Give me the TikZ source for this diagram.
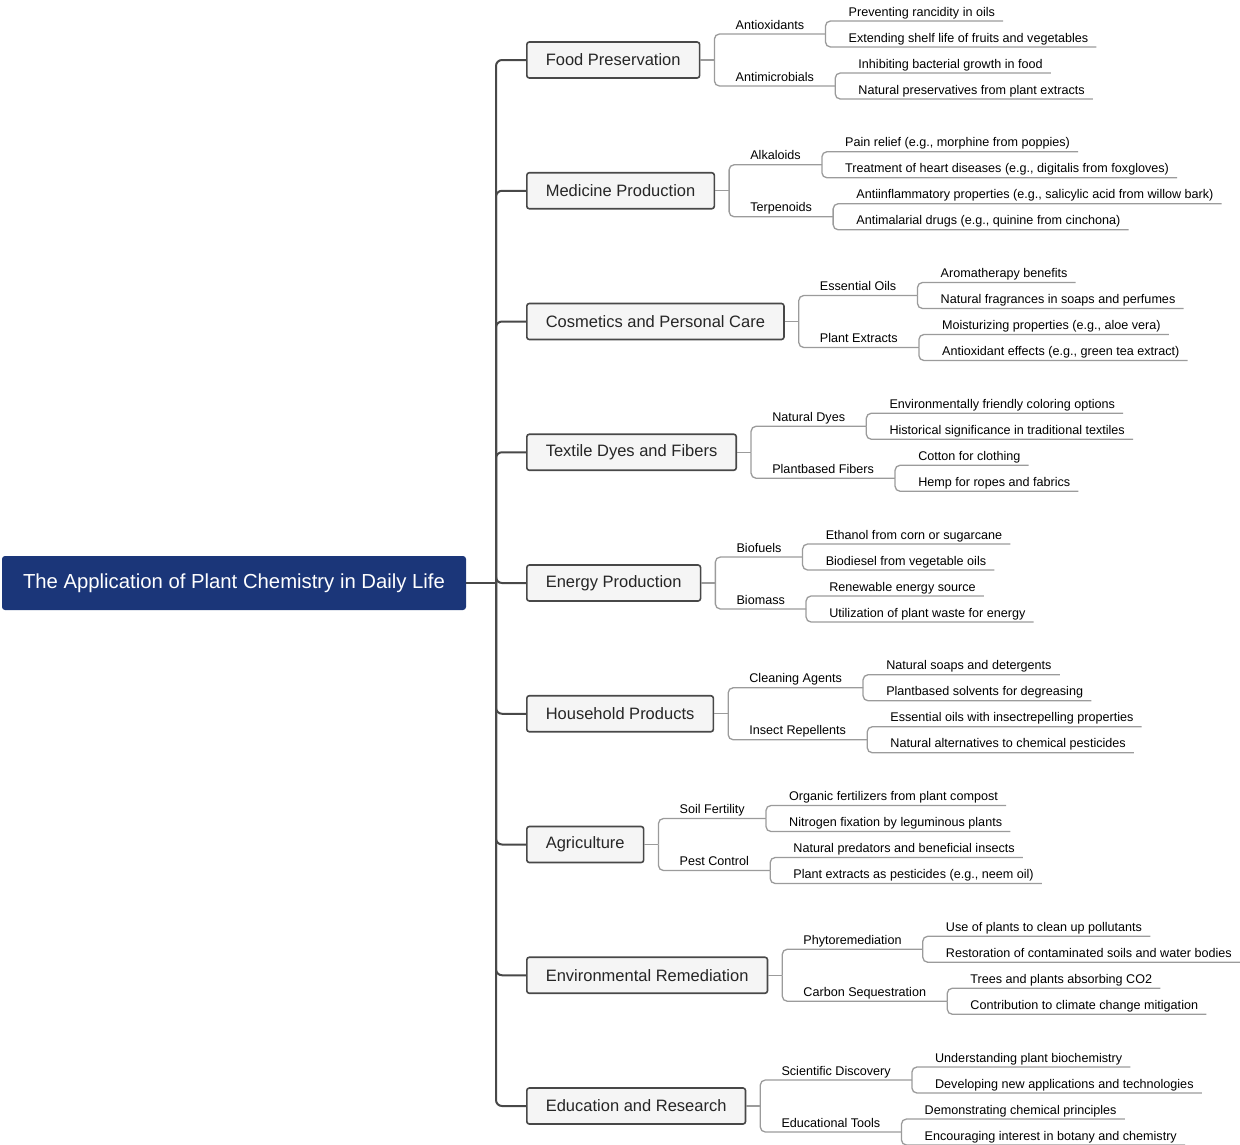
\documentclass[tikz,border=0pt]{standalone}
\usepackage{fontspec}
\setmainfont{Liberation Sans}
\usetikzlibrary{calc}
\definecolor{rootblue}{RGB}{27,54,121}
\definecolor{trunkgray}{RGB}{72,72,72}
\definecolor{subgray}{RGB}{155,155,155}
\definecolor{boxfill}{RGB}{245,245,245}
\tikzset{
  rootbox/.style={fill=rootblue, rounded corners=3pt, text=white, minimum height=54pt, minimum width=464pt, inner sep=0pt, font=\fontsize{20.3pt}{24pt}\selectfont},
  catbox/.style={draw=trunkgray, line width=1.6pt, fill=boxfill, rounded corners=2.5pt, minimum height=36pt, inner xsep=19pt, inner ysep=0pt, text=black!85, font=\fontsize{16.5pt}{19pt}\selectfont},
  sublbl/.style={inner sep=0pt, text depth=4.8pt, font=\fontsize{12.6pt}{15pt}\selectfont},
  leaf/.style={inner sep=0pt, text depth=4.8pt, font=\fontsize{12.6pt}{15pt}\selectfont},
  trunk/.style={draw=trunkgray, line width=2pt, rounded corners=6pt},
  subline/.style={draw=subgray, line width=1.3pt, rounded corners=5pt},
}
\newcommand{\catbranch}[9]{%
  \node[catbox, anchor=west] (#1) at (526,#2) {#3};
  \draw[trunk] (tj) |- (#1.west);
  \coordinate (#1j) at ([xshift=14pt]#1.east);
  \draw[subline] (#1.east) -- (#1j);
  \node[sublbl, anchor=south west] (#1a) at ($(#1j)+(21,-26)$) {#4};
  \coordinate (#1ae) at ([xshift=21pt]#1a.south east);
  \draw[subline] (#1j) |- (#1ae);
  \node[leaf, anchor=south west] (#1a1) at ($(#1ae)+(23,-13)$) {#5};
  \draw[subline] (#1ae) |- ([xshift=8pt]#1a1.south east);
  \node[leaf, anchor=south west] (#1a2) at ($(#1ae)+(23,13)$) {#6};
  \draw[subline] (#1ae) |- ([xshift=8pt]#1a2.south east);
  \node[sublbl, anchor=south west] (#1b) at ($(#1j)+(21,26)$) {#7};
  \coordinate (#1be) at ([xshift=21pt]#1b.south east);
  \draw[subline] (#1j) |- (#1be);
  \node[leaf, anchor=south west] (#1b1) at ($(#1be)+(23,-13)$) {#8};
  \draw[subline] (#1be) |- ([xshift=8pt]#1b1.south east);
  \node[leaf, anchor=south west] (#1b2) at ($(#1be)+(23,13)$) {#9};
  \draw[subline] (#1be) |- ([xshift=8pt]#1b2.south east);
}
\begin{document}
\begin{tikzpicture}[x=1pt, y=-1pt]
\useasboundingbox (0,0) rectangle (1240,1144);
\node[rootbox] (root) at (234,583) {The Application of Plant Chemistry in Daily Life};
\coordinate (tj) at (496,583);
\draw[trunk] (root.east) -- (tj);
\catbranch{ca}{60}{Food Preservation}{Antioxidants}{Preventing rancidity in oils}{Extending shelf life of fruits and vegetables}{Antimicrobials}{Inhibiting bacterial growth in food}{Natural preservatives from plant extracts}
\catbranch{cb}{190.75}{Medicine Production}{Alkaloids}{Pain relief (e.g., morphine from poppies)}{Treatment of heart diseases (e.g., digitalis from foxgloves)}{Terpenoids}{Antiinflammatory properties (e.g., salicylic acid from willow bark)}{Antimalarial drugs (e.g., quinine from cinchona)}
\catbranch{cc}{321.5}{Cosmetics and Personal Care}{Essential Oils}{Aromatherapy benefits}{Natural fragrances in soaps and perfumes}{Plant Extracts}{Moisturizing properties (e.g., aloe vera)}{Antioxidant effects (e.g., green tea extract)}
\catbranch{cd}{452.25}{Textile Dyes and Fibers}{Natural Dyes}{Environmentally friendly coloring options}{Historical significance in traditional textiles}{Plantbased Fibers}{Cotton for clothing}{Hemp for ropes and fabrics}
\catbranch{ce}{583}{Energy Production}{Biofuels}{Ethanol from corn or sugarcane}{Biodiesel from vegetable oils}{Biomass}{Renewable energy source}{Utilization of plant waste for energy}
\catbranch{cf}{713.75}{Household Products}{Cleaning Agents}{Natural soaps and detergents}{Plantbased solvents for degreasing}{Insect Repellents}{Essential oils with insectrepelling properties}{Natural alternatives to chemical pesticides}
\catbranch{cg}{844.5}{Agriculture}{Soil Fertility}{Organic fertilizers from plant compost}{Nitrogen fixation by leguminous plants}{Pest Control}{Natural predators and beneficial insects}{Plant extracts as pesticides (e.g., neem oil)}
\catbranch{ch}{975.25}{Environmental Remediation}{Phytoremediation}{Use of plants to clean up pollutants}{Restoration of contaminated soils and water bodies}{Carbon Sequestration}{Trees and plants absorbing CO2}{Contribution to climate change mitigation}
\catbranch{ci}{1106}{Education and Research}{Scientific Discovery}{Understanding plant biochemistry}{Developing new applications and technologies}{Educational Tools}{Demonstrating chemical principles}{Encouraging interest in botany and chemistry}
\end{tikzpicture}
\end{document}
